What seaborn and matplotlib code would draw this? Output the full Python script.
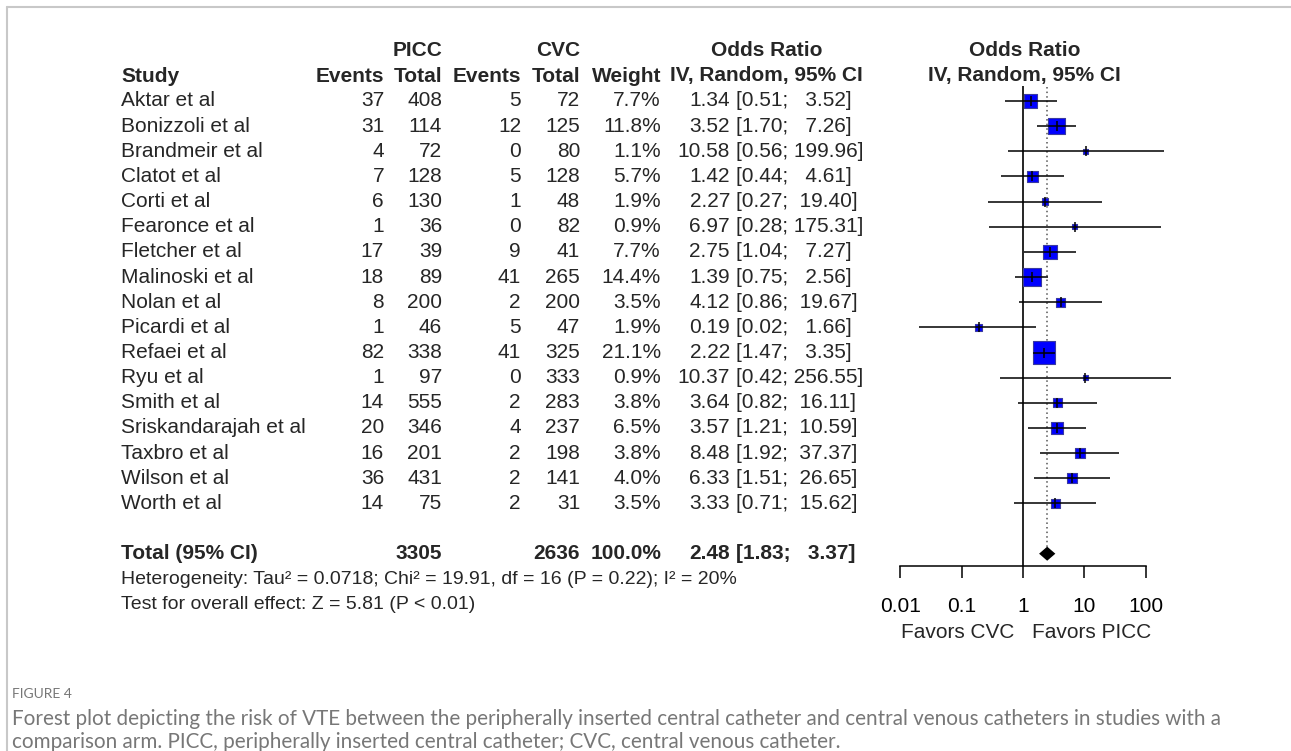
import numpy as np
import pandas as pd
import matplotlib
matplotlib.use("Agg")
import matplotlib.pyplot as plt
from matplotlib.ticker import NullLocator
import seaborn as sns

# data
studies = ["Aktar et al", "Bonizzoli et al", "Brandmeir et al", "Clatot et al", "Corti et al",
           "Fearonce et al", "Fletcher et al", "Malinoski et al", "Nolan et al", "Picardi et al",
           "Refaei et al", "Ryu et al", "Smith et al", "Sriskandarajah et al", "Taxbro et al",
           "Wilson et al", "Worth et al"]
picc_events = [37, 31, 4, 7, 6, 1, 17, 18, 8, 1, 82, 1, 14, 20, 16, 36, 14]
picc_total = [408, 114, 72, 128, 130, 36, 39, 89, 200, 46, 338, 97, 555, 346, 201, 431, 75]
cvc_events = [5, 12, 0, 5, 1, 0, 9, 41, 2, 5, 41, 0, 2, 4, 2, 2, 2]
cvc_total = [72, 125, 80, 128, 48, 82, 41, 265, 200, 47, 325, 333, 283, 237, 198, 141, 31]
weights = [7.7, 11.8, 1.1, 5.7, 1.9, 0.9, 7.7, 14.4, 3.5, 1.9, 21.1, 0.9, 3.8, 6.5, 3.8, 4.0, 3.5]
odds = [1.34, 3.52, 10.58, 1.42, 2.27, 6.97, 2.75, 1.39, 4.12, 0.19, 2.22, 10.37, 3.64, 3.57, 8.48, 6.33, 3.33]
ci_low = [0.51, 1.70, 0.56, 0.44, 0.27, 0.28, 1.04, 0.75, 0.86, 0.02, 1.47, 0.42, 0.82, 1.21, 1.92, 1.51, 0.71]
ci_high = [3.52, 7.26, 199.96, 4.61, 19.40, 175.31, 7.27, 2.56, 19.67, 1.66, 3.35, 256.55, 16.11, 10.59, 37.37, 26.65, 15.62]

total_picc = 3305
total_cvc = 2636
total_weight = 100.0
total_or, total_lo, total_hi = 2.48, 1.83, 3.37

het_text = "Heterogeneity: Tau² = 0.0718; Chi² = 19.91, df = 16 (P = 0.22); I² = 20%"
test_text = "Test for overall effect: Z = 5.81 (P < 0.01)"
x_ticks = [0.01, 0.1, 1, 10, 100]
x_tick_labels = ["0.01", "0.1", "1", "10", "100"]

caption_title = "FIGURE 4"
caption_lines = [
    "Forest plot depicting the risk of VTE between the peripherally inserted central catheter and central venous catheters in studies with a",
    "comparison arm. PICC, peripherally inserted central catheter; CVC, central venous catheter.",
]

df = pd.DataFrame({"study": studies, "or": odds, "lo": ci_low, "hi": ci_high, "weight": weights})
df["row"] = np.arange(len(df))
total_row = len(df) + 1

sns.set_style("white")
plt.rcParams["font.family"] = ["Liberation Sans", "DejaVu Sans"]

W, H = 1291, 751
fig = plt.figure(figsize=(W / 100, H / 100), dpi=100)

# text layer in pixel coordinates
tx = fig.add_axes([0, 0, 1, 1])
tx.set_xlim(0, W)
tx.set_ylim(H, 0)
tx.axis("off")

# frame lines of the page
tx.plot([7, W], [7, 7], color="#c8c8c8", lw=1.5)
tx.plot([7, 7], [7, H], color="#c8c8c8", lw=1.5)

y0, dy = 101, 25.15
def row_y(r):
    return y0 + dy * r

fs = 15
bold = dict(fontsize=fs, fontweight="bold", va="center")
norm = dict(fontsize=fs, va="center")

# column anchors (px)
x_study, x_pe, x_pt, x_ce, x_ct, x_w, x_or, x_br = 121, 384, 442, 521, 580, 661, 730, 736

tx.text(x_pt, 51, "PICC", ha="right", **bold)
tx.text(x_ct, 51, "CVC", ha="right", **bold)
tx.text(767, 51, "Odds Ratio", ha="center", **bold)
tx.text(x_study, 76, "Study", ha="left", **bold)
tx.text(x_pe, 76, "Events", ha="right", **bold)
tx.text(x_pt, 76, "Total", ha="right", **bold)
tx.text(x_ce, 76, "Events", ha="right", **bold)
tx.text(x_ct, 76, "Total", ha="right", **bold)
tx.text(x_w, 76, "Weight", ha="right", **bold)
tx.text(766, 76, "IV, Random, 95% CI", ha="center", **bold)

for i in range(len(studies)):
    y = row_y(i)
    tx.text(x_study, y, studies[i], ha="left", **norm)
    tx.text(x_pe, y, str(picc_events[i]), ha="right", **norm)
    tx.text(x_pt, y, str(picc_total[i]), ha="right", **norm)
    tx.text(x_ce, y, str(cvc_events[i]), ha="right", **norm)
    tx.text(x_ct, y, str(cvc_total[i]), ha="right", **norm)
    tx.text(x_w, y, f"{weights[i]:.1f}%", ha="right", **norm)
    tx.text(x_or, y, f"{odds[i]:.2f}", ha="right", **norm)
    tx.text(x_br, y, f"[{ci_low[i]:.2f}; {ci_high[i]:>6.2f}]", ha="left", **norm)

yt = row_y(total_row)
tb = dict(fontsize=fs, fontweight="bold", va="center")
tx.text(x_study, yt, "Total (95% CI)", ha="left", **tb)
tx.text(x_pt, yt, str(total_picc), ha="right", **tb)
tx.text(x_ct, yt, str(total_cvc), ha="right", **tb)
tx.text(x_w, yt, f"{total_weight:.1f}%", ha="right", **tb)
tx.text(x_or, yt, f"{total_or:.2f}", ha="right", **tb)
tx.text(x_br, yt, f"[{total_lo:.2f}; {total_hi:>6.2f}]", ha="left", **tb)
tx.text(x_study, row_y(total_row + 1.03), het_text, ha="left", fontsize=14, va="center")
tx.text(x_study, row_y(total_row + 2.03), test_text, ha="left", fontsize=14, va="center")

# forest panel headers
tx.text(1024.5, 51, "Odds Ratio", ha="center", **bold)
tx.text(1024.5, 76, "IV, Random, 95% CI", ha="center", **bold)
tx.text(958, 632, "Favors CVC", ha="center", **norm)
tx.text(1092, 632, "Favors PICC", ha="center", **norm)

# forest panel: log x, rows on y
px_left, px_right, px_top, px_bot = 888, 1182, 86, 566
x_one, per_dec = 1023, 61.3
ax = fig.add_axes([px_left / W, 1 - px_bot / H, (px_right - px_left) / W, (px_bot - px_top) / H])
ax.set_xscale("log")
ax.set_xlim(10 ** ((px_left - x_one) / per_dec), 10 ** ((px_right - x_one) / per_dec))
ax.set_ylim((px_bot - y0) / dy, (px_top - y0) / dy)
ax.patch.set_alpha(0)

ax.axvline(1, color="black", lw=1.2, zorder=1)
ax.vlines(total_or, -0.55, total_row - 0.28, colors="#555555", linestyles=(0, (1, 2)), lw=1.1, zorder=1)

sns.scatterplot(data=df, x="or", y="row", size="weight", sizes=(11.9 * min(weights), 11.9 * max(weights)),
                size_norm=(min(weights), max(weights)), marker="s", color="#0000ff",
                edgecolor="#3a3aa0", linewidth=0.8, legend=False, ax=ax, zorder=2)
ax.hlines(df["row"], df["lo"], df["hi"], colors="black", lw=1.1, zorder=3)
ax.plot(df["or"], df["row"], ls="none", marker="|", ms=7, mew=1.1, color="black", zorder=4)

ax.fill([total_lo, total_or, total_hi, total_or],
        [total_row, total_row - 0.28, total_row, total_row + 0.28], color="black", lw=0, zorder=3)

for s in ["top", "right", "left"]:
    ax.spines[s].set_visible(False)
ax.spines["bottom"].set_bounds(x_ticks[0], x_ticks[-1])
ax.spines["bottom"].set_color("black")
ax.spines["bottom"].set_linewidth(1.1)
ax.set_xticks(x_ticks)
ax.set_xticklabels(x_tick_labels)
ax.xaxis.set_minor_locator(NullLocator())
ax.tick_params(axis="x", direction="out", length=8.6, width=1.1, pad=14, labelsize=fs,
               colors="black", bottom=True)
ax.set_yticks([])
ax.set_xlabel("")
ax.set_ylabel("")

# caption
cap_font = ["Lato", "DejaVu Sans"]
cap = dict(ha="left", va="center", color="#777777", family=cap_font)
tx.text(12, 694, caption_title, fontsize=10, **cap)
tx.text(12, 719, caption_lines[0], fontsize=14.9, **cap)
tx.text(12, 742, caption_lines[1], fontsize=14.9, **cap)

fig.savefig("out.png", dpi=100)
